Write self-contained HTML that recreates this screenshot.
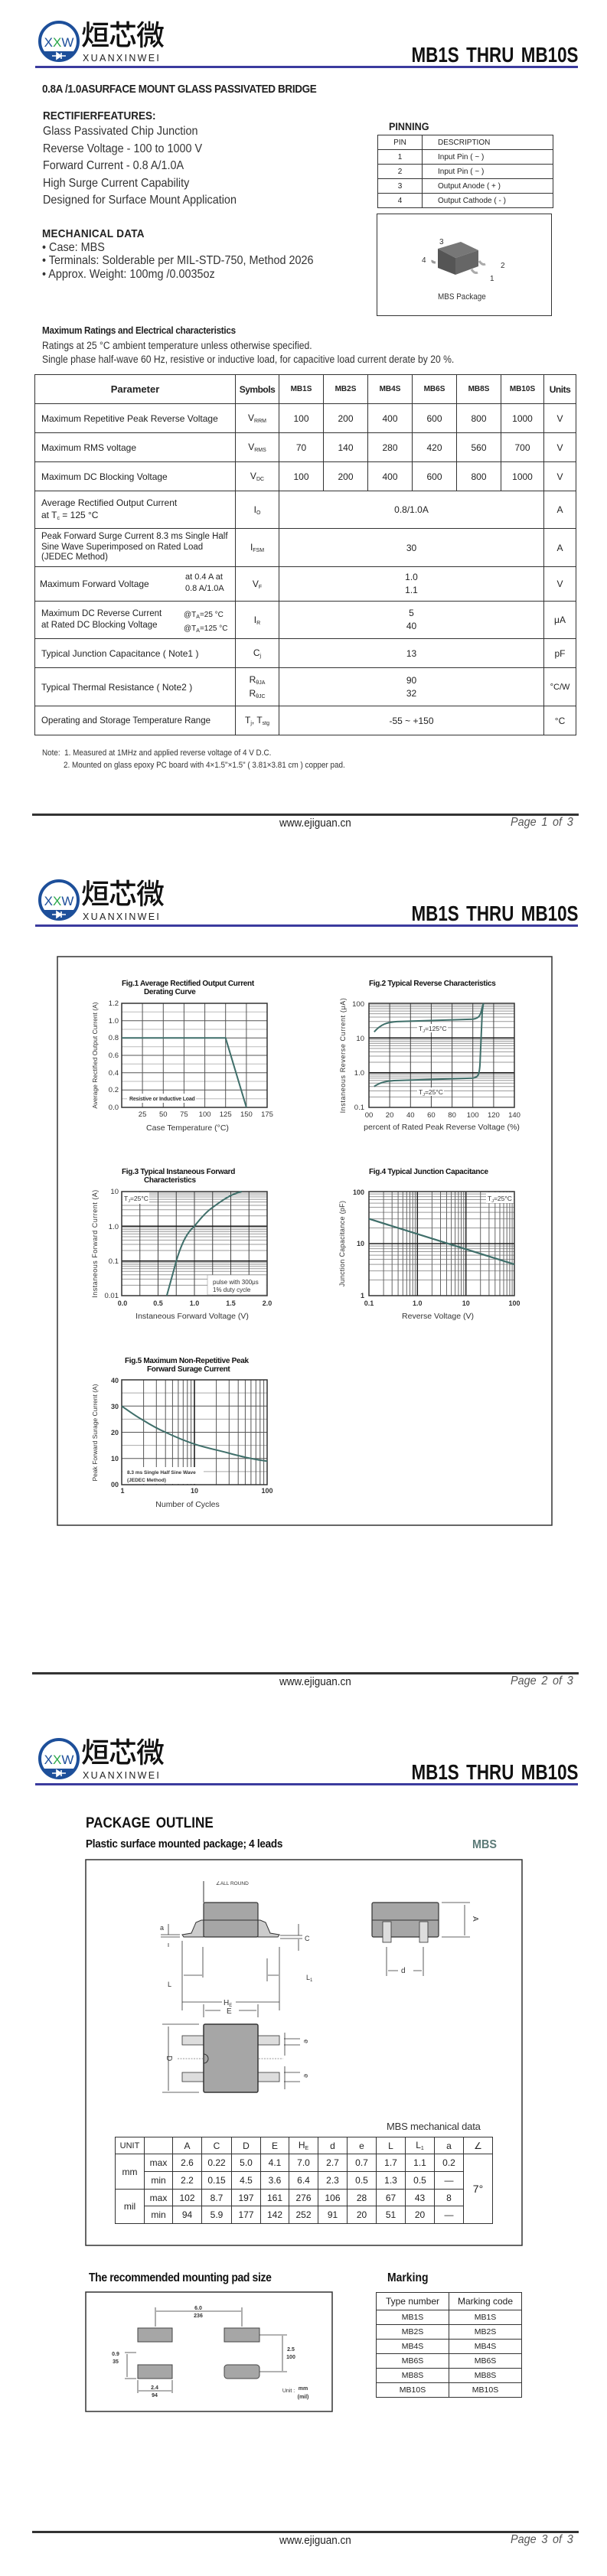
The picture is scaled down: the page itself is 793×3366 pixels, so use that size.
<!DOCTYPE html>
<html><head><meta charset="utf-8">
<style>
*{margin:0;padding:0;box-sizing:border-box}
body{width:793px;height:3366px;background:#fff;font-family:"Liberation Sans",Arial,sans-serif;color:#222;overflow:hidden}
.pg{position:relative;width:793px;height:1122px;overflow:hidden}
.a{position:absolute;white-space:nowrap;line-height:1.15}
.s{transform:scaleX(.9);transform-origin:left center}
.b{font-weight:bold}
.logo-cn{font-family:"Noto Sans CJK SC","WenQuanYi Zen Hei",sans-serif;font-size:37px;font-weight:500;color:#111;letter-spacing:-1px}
.ttl{font-size:28px;font-weight:bold;color:#111;word-spacing:4px;transform:scaleX(.8);transform-origin:right center}
.bl{position:absolute;left:46px;width:709px;top:86px;height:3px;background:#3b3b9e}
.fl{position:absolute;left:42px;width:714px;top:1063px;height:3px;background:#333}
.www{left:365px;top:1067px;font-size:15px;color:#222;transform:scaleX(.9);transform-origin:left center}
.pno{left:667px;top:1066px;font-size:16px;font-style:italic;color:#555;word-spacing:3px;transform:scaleX(.9);transform-origin:left center}
table{border-collapse:collapse;table-layout:fixed;position:absolute}
td{border:1.5px solid #333;text-align:center;vertical-align:middle;white-space:nowrap;font-size:12px;color:#222}
.rt td{font-size:12px}
.rt td.p{text-align:left;padding-left:8px}
sub{font-size:7px;vertical-align:-2px}
</style></head><body>

<!-- ================= PAGE 1 ================= -->
<div class="pg">
 <svg class="a" style="left:48px;top:25px" width="60" height="58" viewBox="0 0 60 58">
  <defs><clipPath id="c1"><circle cx="29" cy="29" r="25"/></clipPath></defs>
  <circle cx="29" cy="29" r="25" fill="#fff" stroke="#1d4f9a" stroke-width="4"/>
  <rect x="0" y="42" width="60" height="20" fill="#1d4f9a" clip-path="url(#c1)"/>
  <path d="M20 48 H38 M26 44 L32 48 L26 52 Z M32 44 V52" stroke="#fff" stroke-width="1.6" fill="#fff"/>
  <text x="29" y="36" text-anchor="middle" font-family="Liberation Sans" font-size="17" fill="#1d4f9a">X<tspan fill="#2aa84a">X</tspan>W</text>
 </svg>
 <div class="a logo-cn" style="left:106px;top:22px">烜芯微</div>
 <div class="a" style="left:108px;top:69px;font-size:12.5px;letter-spacing:2.3px;color:#222">XUANXINWEI</div>
 <div class="a ttl" style="right:38px;top:56px">MB1S THRU MB10S</div>
 <div class="bl"></div>

 <div class="a b s" style="left:55px;top:108px;font-size:15px;letter-spacing:-0.4px">0.8A /1.0ASURFACE MOUNT GLASS PASSIVATED BRIDGE</div>
 <div class="a b s" style="left:56px;top:143px;font-size:15px">RECTIFIERFEATURES:</div>
 <div class="a s" style="left:56px;top:163px;font-size:16px;color:#333">Glass Passivated Chip Junction</div>
 <div class="a s" style="left:56px;top:186px;font-size:16px;color:#333">Reverse Voltage - 100 to 1000 V</div>
 <div class="a s" style="left:56px;top:208px;font-size:16px;color:#333">Forward Current - 0.8 A/1.0A</div>
 <div class="a s" style="left:56px;top:231px;font-size:16px;color:#333">High Surge Current Capability</div>
 <div class="a s" style="left:56px;top:253px;font-size:16px;color:#333">Designed for Surface Mount Application</div>

 <div class="a b s" style="left:55px;top:297px;font-size:15px;letter-spacing:0.3px">MECHANICAL DATA</div>
 <div class="a s" style="left:55px;top:315px;font-size:16px;color:#333">• Case: MBS</div>
 <div class="a s" style="left:55px;top:332px;font-size:16px;color:#333">• Terminals: Solderable per MIL-STD-750, Method 2026</div>
 <div class="a s" style="left:55px;top:350px;font-size:16px;color:#333">• Approx. Weight: 100mg /0.0035oz</div>

 <div class="a b s" style="left:508px;top:157px;font-size:14px">PINNING</div>
 <table style="left:493px;top:176px;width:229px">
  <colgroup><col style="width:58px"><col style="width:171px"></colgroup>
  <tr style="height:19px"><td style="font-size:10px">PIN</td><td style="font-size:10px;text-align:left;padding-left:20px">DESCRIPTION</td></tr>
  <tr style="height:19px"><td style="font-size:10px">1</td><td style="font-size:10px;text-align:left;padding-left:20px">Input Pin ( ~ )</td></tr>
  <tr style="height:19px"><td style="font-size:10px">2</td><td style="font-size:10px;text-align:left;padding-left:20px">Input Pin ( ~ )</td></tr>
  <tr style="height:19px"><td style="font-size:10px">3</td><td style="font-size:10px;text-align:left;padding-left:20px">Output Anode ( + )</td></tr>
  <tr style="height:19px"><td style="font-size:10px">4</td><td style="font-size:10px;text-align:left;padding-left:20px">Output Cathode ( - )</td></tr>
 </table>
 <div class="a" style="left:492px;top:279px;width:229px;height:134px;border:1.5px solid #333"></div>
 <svg class="a" style="left:540px;top:305px" width="130" height="80" viewBox="0 0 130 80">
  <polygon points="32,20 62,11 85,22 55,32" fill="#777"/>
  <polygon points="32,20 55,32 55,54 32,45" fill="#555"/>
  <polygon points="55,32 85,22 85,43 55,54" fill="#666"/>
  <path d="M29 38 q-5 0 -4 -3" stroke="#999" stroke-width="3" fill="none"/>
  <path d="M76 47 q4 6 8 4" stroke="#aaa" stroke-width="3" fill="none"/>
  <path d="M86 36 q4 6 8 4" stroke="#aaa" stroke-width="3" fill="none"/>
  <text x="34" y="14" font-size="10" fill="#333">3</text>
  <text x="11" y="38" font-size="10" fill="#333">4</text>
  <text x="114" y="45" font-size="10" fill="#333">2</text>
  <text x="100" y="62" font-size="10" fill="#333">1</text>
 </svg>
 <div class="a s" style="left:572px;top:382px;font-size:11px;color:#333">MBS Package</div>

 <div class="a b s" style="left:55px;top:425px;font-size:13px;letter-spacing:-0.3px">Maximum Ratings and Electrical characteristics</div>
 <div class="a s" style="left:55px;top:444px;font-size:13.5px;color:#333">Ratings at 25 °C ambient temperature unless otherwise specified.</div>
 <div class="a s" style="left:55px;top:462px;font-size:13.5px;color:#333">Single phase half-wave 60 Hz, resistive or inductive load, for capacitive load current derate by 20 %.</div>

 <table class="rt" style="left:45px;top:489px;width:707px">
  <colgroup><col style="width:262px"><col style="width:57px"><col style="width:58px"><col style="width:58px"><col style="width:58px"><col style="width:58px"><col style="width:58px"><col style="width:56px"><col style="width:42px"></colgroup>
  <tr style="height:38px"><td class="b" style="font-size:13px">Parameter</td><td class="b" style="font-size:12px;letter-spacing:-0.5px">Symbols</td><td class="b" style="font-size:10px">MB1S</td><td class="b" style="font-size:10px">MB2S</td><td class="b" style="font-size:10px">MB4S</td><td class="b" style="font-size:10px">MB6S</td><td class="b" style="font-size:10px">MB8S</td><td class="b" style="font-size:10px">MB10S</td><td class="b" style="font-size:12px;letter-spacing:-0.5px">Units</td></tr>
  <tr style="height:38px"><td class="p">Maximum Repetitive Peak Reverse Voltage</td><td>V<sub>RRM</sub></td><td>100</td><td>200</td><td>400</td><td>600</td><td>800</td><td>1000</td><td>V</td></tr>
  <tr style="height:38px"><td class="p">Maximum RMS voltage</td><td>V<sub>RMS</sub></td><td>70</td><td>140</td><td>280</td><td>420</td><td>560</td><td>700</td><td>V</td></tr>
  <tr style="height:38px"><td class="p">Maximum DC Blocking Voltage</td><td>V<sub>DC</sub></td><td>100</td><td>200</td><td>400</td><td>600</td><td>800</td><td>1000</td><td>V</td></tr>
  <tr style="height:49px"><td class="p" style="line-height:1.3">Average Rectified Output Current<br>at T<sub>c</sub> = 125 °C</td><td>I<sub>O</sub></td><td colspan="6">0.8/1.0A</td><td>A</td></tr>
  <tr style="height:50px"><td class="p" style="line-height:1.2;font-size:11.5px">Peak Forward Surge Current 8.3 ms Single Half<br>Sine Wave Superimposed on Rated Load<br>(JEDEC Method)</td><td>I<sub>FSM</sub></td><td colspan="6">30</td><td>A</td></tr>
  <tr style="height:45px"><td class="p" style="position:relative;padding-left:6px">Maximum Forward Voltage<span style="position:absolute;left:196px;top:6px;line-height:1.4;font-size:11px">at 0.4 A at<br>0.8 A/1.0A</span></td><td>V<sub>F</sub></td><td colspan="6" style="line-height:1.4">1.0<br>1.1</td><td>V</td></tr>
  <tr style="height:49px"><td class="p" style="position:relative;line-height:1.3;font-size:11.5px">Maximum DC Reverse Current<br>at Rated DC Blocking Voltage<span style="position:absolute;left:194px;top:9px;font-size:10px;line-height:1.7">@T<sub>A</sub>=25 °C<br>@T<sub>A</sub>=125 °C</span></td><td>I<sub>R</sub></td><td colspan="6" style="line-height:1.4">5<br>40</td><td>μA</td></tr>
  <tr style="height:38px"><td class="p">Typical Junction Capacitance ( Note1 )</td><td>C<sub>j</sub></td><td colspan="6">13</td><td>pF</td></tr>
  <tr style="height:50px"><td class="p">Typical Thermal Resistance ( Note2 )</td><td style="line-height:1.4">R<sub>θJA</sub><br>R<sub>θJC</sub></td><td colspan="6" style="line-height:1.4">90<br>32</td><td style="font-size:11px">°C/W</td></tr>
  <tr style="height:38px"><td class="p" style="font-size:11.5px">Operating and Storage Temperature Range</td><td>T<sub>j</sub>, T<sub>stg</sub></td><td colspan="6">-55 ~ +150</td><td>°C</td></tr>
 </table>
 <div class="a s" style="left:55px;top:978px;font-size:11px;color:#333">Note:&nbsp; 1. Measured at 1MHz and applied reverse voltage of 4 V D.C.</div>
 <div class="a s" style="left:83px;top:994px;font-size:11px;color:#333">2. Mounted on glass epoxy PC board with 4×1.5"×1.5" ( 3.81×3.81 cm ) copper pad.</div>

 <div class="fl"></div>
 <div class="a www">www.ejiguan.cn</div>
 <div class="a pno">Page 1 of 3</div>
</div>

<!-- ================= PAGE 2 ================= -->
<div class="pg">
 <svg class="a" style="left:48px;top:25px" width="60" height="58" viewBox="0 0 60 58">
  <defs><clipPath id="c2"><circle cx="29" cy="29" r="25"/></clipPath></defs>
  <circle cx="29" cy="29" r="25" fill="#fff" stroke="#1d4f9a" stroke-width="4"/>
  <rect x="0" y="42" width="60" height="20" fill="#1d4f9a" clip-path="url(#c2)"/>
  <path d="M20 48 H38 M26 44 L32 48 L26 52 Z M32 44 V52" stroke="#fff" stroke-width="1.6" fill="#fff"/>
  <text x="29" y="36" text-anchor="middle" font-family="Liberation Sans" font-size="17" fill="#1d4f9a">X<tspan fill="#2aa84a">X</tspan>W</text>
 </svg>
 <div class="a logo-cn" style="left:106px;top:22px">烜芯微</div>
 <div class="a" style="left:108px;top:69px;font-size:12.5px;letter-spacing:2.3px;color:#222">XUANXINWEI</div>
 <div class="a ttl" style="right:38px;top:56px">MB1S THRU MB10S</div>
 <div class="bl"></div>

 <svg class="a" style="left:0;top:0" width="793" height="1122" font-family="Liberation Sans, sans-serif">
  <rect x="75" y="128" width="646" height="743" fill="none" stroke="#333" stroke-width="1.5"/>
  <g font-weight="bold" font-size="10" fill="#111" letter-spacing="-0.3">
   <text x="159" y="166">Fig.1  Average Rectified Output Current</text>
   <text x="188" y="177">Derating Curve</text>
   <text x="482" y="166">Fig.2  Typical Reverse Characteristics</text>
   <text x="159" y="412">Fig.3  Typical Instaneous Forward</text>
   <text x="188" y="423">Characteristics</text>
   <text x="482" y="412">Fig.4  Typical Junction Capacitance</text>
   <text x="163" y="659">Fig.5  Maximum Non-Repetitive Peak</text>
   <text x="192" y="670">Forward Surage Current</text>
  </g>
  <g stroke="#bbb" stroke-width="1" fill="none">
   <path d="M159 313.7H349M159 291H349M159 268.3H349M159 245.7H349M159 223H349M159 200.3H349"/>
  </g>
  <g stroke="#555" stroke-width="1" fill="none">
   <path d="M186.1 189V325M213.3 189V325M240.4 189V325M267.6 189V325M294.7 189V325M321.9 189V325M159 302.3H349M159 279.7H349M159 257H349M159 234.3H349M159 211.7H349"/>
  </g>
  <rect x="159" y="189" width="190" height="136" fill="none" stroke="#333" stroke-width="1.5"/>
  <rect x="166" y="307" width="90" height="12" fill="#fff"/>
  <text x="169" y="316" font-size="7" font-weight="bold" fill="#333" letter-spacing="-0.2">Resistive or Inductive Load</text>
  <polyline points="159,234.3 294.7,234.3 321.9,325" fill="none" stroke="#3f6f6a" stroke-width="2"/>
  <g font-size="9.5" fill="#333" text-anchor="end">
   <text x="155" y="192">1.2</text><text x="155" y="215">1.0</text><text x="155" y="237">0.8</text><text x="155" y="260">0.6</text><text x="155" y="283">0.4</text><text x="155" y="305">0.2</text><text x="155" y="328">0.0</text>
  </g>
  <g font-size="9.5" fill="#333" text-anchor="middle">
   <text x="186.1" y="337">25</text><text x="213.3" y="337">50</text><text x="240.4" y="337">75</text><text x="267.6" y="337">100</text><text x="294.7" y="337">125</text><text x="321.9" y="337">150</text><text x="349" y="337">175</text>
  </g>
  <text x="245" y="355" font-size="10.5" fill="#333" text-anchor="middle">Case Temperature (°C)</text>
  <text transform="translate(127,257) rotate(-90)" font-size="8.5" fill="#333" text-anchor="middle">Average Rectified Output Current (A)</text>

  <!-- Fig2 -->
  <g stroke="#999" stroke-width="1" fill="none">
   <path d="M482 311.4H672M482 303.4H672M482 297.7H672M482 293.3H672M482 289.7H672M482 286.7H672M482 284.1H672M482 281.7H672M482 266H672M482 258H672M482 252.4H672M482 248H672M482 244.4H672M482 241.4H672M482 238.7H672M482 236.4H672M482 220.7H672M482 212.7H672M482 207H672M482 202.6H672M482 199.1H672M482 196H672M482 193.4H672M482 191.1H672"/>
  </g>
  <g stroke="#444" stroke-width="1" fill="none">
   <path d="M509.1 189V325M536.3 189V325M563.4 189V325M590.6 189V325M617.7 189V325M644.9 189V325"/>
   <path d="M482 279.7H672M482 234.3H672" stroke="#111" stroke-width="1.5"/>
  </g>
  <rect x="482" y="189" width="190" height="136" fill="none" stroke="#333" stroke-width="1.5"/>
  <path d="M488.8 226.4 C497 217 505 213 522.7 212.7 L617.7 209.7 C626 209 628 204 629.5 196 L631.5 189" fill="none" stroke="#3f6f6a" stroke-width="2"/>
  <path d="M488.8 297.7 C497 292 505 290 522.7 289.7 L617.7 286.7 C625 286 626 282 627 270 L630 200 L631.5 189" fill="none" stroke="#3f6f6a" stroke-width="2"/>
  <rect x="545" y="216" width="40" height="11" fill="#fff"/>
  <text x="547" y="225" font-size="8.5" fill="#333">T<tspan font-size="5.5" dy="2">J</tspan><tspan dy="-2">=125°C</tspan></text>
  <rect x="545" y="299" width="35" height="11" fill="#fff"/>
  <text x="547" y="308" font-size="8.5" fill="#333">T<tspan font-size="5.5" dy="2">J</tspan><tspan dy="-2">=25°C</tspan></text>
  <g font-size="9.5" fill="#333" text-anchor="end">
   <text x="476" y="193">100</text><text x="476" y="238">10</text><text x="476" y="283">1.0</text><text x="476" y="328">0.1</text>
  </g>
  <g font-size="9.5" fill="#333" text-anchor="middle">
   <text x="482" y="338">00</text><text x="509.1" y="338">20</text><text x="536.3" y="338">40</text><text x="563.4" y="338">60</text><text x="590.6" y="338">80</text><text x="617.7" y="338">100</text><text x="644.9" y="338">120</text><text x="672" y="338">140</text>
  </g>
  <text x="577" y="354" font-size="10.5" fill="#333" text-anchor="middle">percent of Rated Peak Reverse Voltage (%)</text>
  <text transform="translate(451,257) rotate(-90)" font-size="9" fill="#333" text-anchor="middle" letter-spacing="0.6">Instaneous Reverse Current (μA)</text>

  <!-- Fig3 -->
  <g stroke="#999" stroke-width="1" fill="none">
   <path d="M159 557.4H349M159 549.4H349M159 543.7H349M159 539.3H349M159 535.7H349M159 532.7H349M159 530.1H349M159 527.7H349M159 512H349M159 504H349M159 498.4H349M159 494H349M159 490.4H349M159 487.4H349M159 484.7H349M159 482.4H349M159 466.7H349M159 458.7H349M159 453H349M159 448.6H349M159 445.1H349M159 442H349M159 439.4H349M159 437.1H349"/>
  </g>
  <g stroke="#444" stroke-width="1" fill="none">
   <path d="M182.75 435V571M206.5 435V571M230.25 435V571M254 435V571M277.75 435V571M301.5 435V571M325.25 435V571"/>
   <path d="M159 525.7H349M159 480.3H349" stroke="#111" stroke-width="1.5"/>
  </g>
  <rect x="159" y="435" width="190" height="136" fill="none" stroke="#333" stroke-width="1.5"/>
  <path d="M217.9 571 L230.3 525.7 C238 500 245 488 254 480.3 C262 470 270 461 277.8 455.7 C292 445 303 438 315.8 435" fill="none" stroke="#3f6f6a" stroke-width="2"/>
  <rect x="160" y="436" width="35" height="15" fill="#fff"/>
  <text x="162" y="447" font-size="8.5" fill="#333">T<tspan font-size="5.5" dy="2">J</tspan><tspan dy="-2">=25°C</tspan></text>
  <rect x="271" y="544" width="77" height="26" fill="#fff" stroke="#999" stroke-width="0.6"/>
  <text x="278" y="556" font-size="8" fill="#333">pulse with 300μs</text>
  <text x="278" y="566" font-size="8" fill="#333">1% duty cycle</text>
  <g font-size="9.5" fill="#333" text-anchor="end">
   <text x="155" y="438">10</text><text x="155" y="484">1.0</text><text x="155" y="529">0.1</text><text x="155" y="574">0.01</text>
  </g>
  <g font-size="9" fill="#333" text-anchor="middle" font-weight="bold">
   <text x="160" y="584">0.0</text><text x="206.5" y="584">0.5</text><text x="254" y="584">1.0</text><text x="301.5" y="584">1.5</text><text x="349" y="584">2.0</text>
  </g>
  <text x="251" y="601" font-size="10.5" fill="#333" text-anchor="middle">Instaneous Forward Voltage (V)</text>
  <text transform="translate(127,503) rotate(-90)" font-size="9" fill="#333" text-anchor="middle" letter-spacing="0.5">Instaneous Forward Current (A)</text>

  <!-- Fig4 -->
  <g stroke="#999" stroke-width="1" fill="none">
   <path d="M482 550.5H672M482 538.6H672M482 530.1H672M482 523.5H672M482 518.1H672M482 513.5H672M482 509.6H672M482 506.1H672M482 482.5H672M482 470.6H672M482 462.1H672M482 455.5H672M482 450.1H672M482 445.5H672M482 441.6H672M482 438.1H672"/>
  </g>
  <g stroke="#666" stroke-width="1" fill="none">
   <path d="M501.1 435V571M512.2 435V571M520.1 435V571M526.3 435V571M531.3 435V571M535.5 435V571M539.2 435V571M542.4 435V571M564.4 435V571M575.5 435V571M583.5 435V571M589.6 435V571M594.6 435V571M598.9 435V571M602.5 435V571M605.8 435V571M627.7 435V571M638.9 435V571M646.8 435V571M653 435V571M658 435V571M662.2 435V571M665.9 435V571M669.1 435V571"/>
   <path d="M545.3 435V571M608.7 435V571M482 503H672" stroke="#222" stroke-width="1.5"/>
  </g>
  <rect x="482" y="435" width="190" height="136" fill="none" stroke="#333" stroke-width="1.5"/>
  <line x1="482" y1="470.6" x2="672" y2="530.1" stroke="#3f6f6a" stroke-width="2.2"/>
  <rect x="635" y="436" width="36" height="14" fill="#fff"/>
  <text x="637" y="447" font-size="8.5" fill="#333">T<tspan font-size="5.5" dy="2">J</tspan><tspan dy="-2">=25°C</tspan></text>
  <g font-size="9" fill="#333" text-anchor="end" font-weight="bold">
   <text x="476" y="439">100</text><text x="476" y="506">10</text><text x="476" y="574">1</text>
  </g>
  <g font-size="9" fill="#333" text-anchor="middle" font-weight="bold">
   <text x="482" y="584">0.1</text><text x="545.3" y="584">1.0</text><text x="608.7" y="584">10</text><text x="672" y="584">100</text>
  </g>
  <text x="572" y="601" font-size="10.5" fill="#333" text-anchor="middle">Reverse  Voltage (V)</text>
  <text transform="translate(450,503) rotate(-90)" font-size="9" fill="#333" text-anchor="middle" letter-spacing="0.3">Junction Capacitance (pF)</text>

  <!-- Fig5 -->
  <g stroke="#aaa" stroke-width="1" fill="none">
   <path d="M159 698.1H349M159 732.4H349M159 766.6H349M159 800.9H349"/>
  </g>
  <g stroke="#555" stroke-width="1" fill="none">
   <path d="M187.6 681V818M204.3 681V818M216.2 681V818M225.4 681V818M232.9 681V818M239.3 681V818M244.8 681V818M249.6 681V818M282.6 681V818M299.3 681V818M311.2 681V818M320.4 681V818M327.9 681V818M334.3 681V818M339.8 681V818M344.6 681V818M159 715.25H349M159 749.5H349M159 783.75H349"/>
   <path d="M254 681V818" stroke="#111" stroke-width="1.5"/>
  </g>
  <rect x="159" y="681" width="190" height="137" fill="none" stroke="#333" stroke-width="1.5"/>
  <path d="M159 715.3 C170 723 178 729 187.6 734.1 C197 740 206 745 216.2 749.5 C230 756 242 761 254 764.9 C270 770 285 773 299.3 776.9 C315 781 330 785 349 787.2" fill="none" stroke="#3f6f6a" stroke-width="2"/>
  <rect x="160" y="795" width="106" height="22" fill="#fff"/>
  <text x="166" y="804" font-size="6.5" font-weight="bold" fill="#333">8.3 ms Single Half Sine Wave</text>
  <text x="166" y="814" font-size="6.5" font-weight="bold" fill="#333">(JEDEC Method)</text>
  <g font-size="9" fill="#333" text-anchor="end" font-weight="bold">
   <text x="155" y="685">40</text><text x="155" y="719">30</text><text x="155" y="753">20</text><text x="155" y="787">10</text><text x="155" y="821">00</text>
  </g>
  <g font-size="9" fill="#333" text-anchor="middle" font-weight="bold">
   <text x="160" y="829">1</text><text x="254" y="829">10</text><text x="349" y="829">100</text>
  </g>
  <text x="245" y="847" font-size="10.5" fill="#333" text-anchor="middle">Number of Cycles</text>
  <text transform="translate(127,750) rotate(-90)" font-size="8.5" fill="#333" text-anchor="middle">Peak Forward Surage Current (A)</text>
 </svg>

 <div class="fl"></div>
 <div class="a www">www.ejiguan.cn</div>
 <div class="a pno">Page 2 of 3</div>
</div>

<!-- ================= PAGE 3 ================= -->
<div class="pg">
 <svg class="a" style="left:48px;top:25px" width="60" height="58" viewBox="0 0 60 58">
  <defs><clipPath id="c3"><circle cx="29" cy="29" r="25"/></clipPath></defs>
  <circle cx="29" cy="29" r="25" fill="#fff" stroke="#1d4f9a" stroke-width="4"/>
  <rect x="0" y="42" width="60" height="20" fill="#1d4f9a" clip-path="url(#c3)"/>
  <path d="M20 48 H38 M26 44 L32 48 L26 52 Z M32 44 V52" stroke="#fff" stroke-width="1.6" fill="#fff"/>
  <text x="29" y="36" text-anchor="middle" font-family="Liberation Sans" font-size="17" fill="#1d4f9a">X<tspan fill="#2aa84a">X</tspan>W</text>
 </svg>
 <div class="a logo-cn" style="left:106px;top:22px">烜芯微</div>
 <div class="a" style="left:108px;top:69px;font-size:12.5px;letter-spacing:2.3px;color:#222">XUANXINWEI</div>
 <div class="a ttl" style="right:38px;top:56px">MB1S THRU MB10S</div>
 <div class="bl"></div>

 <div class="a b s" style="left:112px;top:128px;font-size:19px;color:#111;word-spacing:3px">PACKAGE OUTLINE</div>
 <div class="a b s" style="left:112px;top:157px;font-size:15px;color:#111;letter-spacing:-0.3px">Plastic surface mounted package; 4 leads</div>
 <div class="a b s" style="left:617px;top:158px;font-size:16px;color:#5b7a77">MBS</div>

 <svg class="a" style="left:0;top:0" width="793" height="1122" font-family="Liberation Sans, sans-serif">
  <rect x="112" y="186" width="570" height="504" fill="none" stroke="#333" stroke-width="1.5"/>
  <path d="M238 284 L250 282 L256 268 L263 265 L266 265 L266 287 L240 287 Z" fill="#ccc" stroke="#333"/>
  <path d="M365 284 L353 282 L347 268 L340 265 L337 265 L337 287 L363 287 Z" fill="#ccc" stroke="#333"/>
  <rect x="266" y="242" width="71" height="45" rx="2" fill="#a6a6a6" stroke="#333" stroke-width="1.2"/>
  <line x1="264" y1="265" x2="339" y2="265" stroke="#333"/>
  <line x1="266" y1="214" x2="266" y2="242" stroke="#333"/>
  <text x="282" y="219" font-size="6.5" fill="#333">∠ALL ROUND</text>
  <path d="M238 292 V383 M365 300 V383 M238 372 H365 M265 300 V340 M240 337 H264 M350 337 H364 M349 315 V345 M210 284 H235 M210 287 H235 M220 270 V284 M220 295 V300 M366 285 H395 M366 289 H395 M390 270 V285 M390 290 V305" stroke="#333" stroke-width="0.8" fill="none"/>
  <text x="209" y="278" font-size="9" fill="#333">a</text>
  <text x="219" y="352" font-size="9" fill="#333">L</text>
  <text x="400" y="343" font-size="9" fill="#333">L<tspan font-size="6" dy="2">1</tspan></text>
  <text x="398" y="292" font-size="9" fill="#333">C</text>
  <rect x="290" y="367" width="18" height="10" fill="#fff"/>
  <text x="292" y="376" font-size="10" fill="#333">H<tspan font-size="6" dy="2">E</tspan></text>
  <rect x="486" y="242" width="87" height="45" rx="2" fill="#a6a6a6" stroke="#333" stroke-width="1.2"/>
  <line x1="486" y1="265" x2="573" y2="265" stroke="#333"/>
  <rect x="500" y="267" width="11" height="27" fill="#ddd" stroke="#333" stroke-width="0.8"/>
  <rect x="548" y="267" width="11" height="27" fill="#ddd" stroke="#333" stroke-width="0.8"/>
  <path d="M577 242 H614 M577 287 H614 M607 245 V285 M505 300 V338 M553 300 V338 M507 331 H520 M540 331 H551" stroke="#333" stroke-width="0.8" fill="none"/>
  <text x="612" y="262" font-size="10" fill="#333" transform="rotate(90 616 264)">A</text>
  <text x="524" y="334" font-size="10" fill="#333">d</text>
  <rect x="238" y="416" width="29" height="12" fill="#ddd" stroke="#333" stroke-width="0.8"/>
  <rect x="238" y="464" width="29" height="12" fill="#ddd" stroke="#333" stroke-width="0.8"/>
  <rect x="336" y="416" width="29" height="12" fill="#ddd" stroke="#333" stroke-width="0.8"/>
  <rect x="336" y="464" width="29" height="12" fill="#ddd" stroke="#333" stroke-width="0.8"/>
  <rect x="266" y="401" width="71" height="89" rx="2" fill="#a6a6a6" stroke="#333" stroke-width="1.5"/>
  <path d="M266 440 A6 6 0 0 1 266 452" fill="none" stroke="#333"/>
  <path d="M266 375 V392 M337 375 V392 M268 383 H288 M312 383 H335 M212 401 H260 M212 490 H260 M220 404 V488 M372 412 V442 M372 456 V486 M371 420 H392 M371 428 H392 M371 464 H392 M371 476 H392" stroke="#333" stroke-width="0.8" fill="none"/>
  <path d="M232 446 H265 M338 446 H370" stroke="#333" stroke-width="0.6" stroke-dasharray="2 1.5"/>
  <text x="296" y="387" font-size="10" fill="#333">E</text>
  <text x="218" y="450" font-size="10" fill="#333" transform="rotate(90 222 446)">D</text>
  <text x="397" y="427" font-size="9" fill="#333" transform="rotate(90 400 424)">e</text>
  <text x="397" y="472" font-size="9" fill="#333" transform="rotate(90 400 469)">e</text>

  <text x="505" y="539" font-size="13" fill="#333" letter-spacing="-0.2">MBS mechanical data</text>

  <rect x="112" y="751" width="322" height="156" fill="none" stroke="#333" stroke-width="1.5"/>
  <rect x="180" y="798" width="45" height="18" fill="#a6a6a6" stroke="#444"/>
  <rect x="293" y="798" width="46" height="18" fill="#a6a6a6" stroke="#444"/>
  <rect x="180" y="846" width="45" height="18" fill="#a6a6a6" stroke="#444"/>
  <rect x="293" y="846" width="46" height="18" rx="4" fill="#a6a6a6" stroke="#444"/>
  <path d="M203 771 V796 M316 771 V796 M204 776 H315 M339 807 H375 M339 855 H375 M369 808 V854 M163 830 H178 M163 864 H178 M166 832 V862 M180 866 V883 M225 866 V883 M181 880 H224" stroke="#333" stroke-width="0.8" fill="none"/>
  <g font-size="7" fill="#333" font-weight="bold" text-anchor="middle">
   <text x="259" y="774">6.0</text><text x="259" y="784">236</text>
   <text x="380" y="828">2.5</text><text x="380" y="838">100</text>
   <text x="151" y="834">0.9</text><text x="151" y="844">35</text>
   <text x="202" y="878">2.4</text><text x="202" y="888">94</text>
   <text x="377" y="882" font-weight="normal">Unit :</text><text x="396" y="879">mm</text><text x="396" y="890">(mil)</text>
  </g>
 </svg>

 <table style="left:150px;top:548px;width:493px">
  <colgroup><col style="width:38px"><col style="width:37px"><col style="width:38px"><col style="width:39px"><col style="width:38px"><col style="width:37px"><col style="width:38px"><col style="width:38px"><col style="width:38px"><col style="width:38px"><col style="width:38px"><col style="width:38px"><col style="width:38px"></colgroup>
  <tr style="height:22px"><td style="font-size:11px">UNIT</td><td></td><td>A</td><td>C</td><td>D</td><td>E</td><td>H<sub>E</sub></td><td>d</td><td>e</td><td>L</td><td>L<sub>1</sub></td><td>a</td><td>∠</td></tr>
  <tr style="height:23px"><td rowspan="2">mm</td><td>max</td><td>2.6</td><td>0.22</td><td>5.0</td><td>4.1</td><td>7.0</td><td>2.7</td><td>0.7</td><td>1.7</td><td>1.1</td><td>0.2</td><td rowspan="4" style="font-size:14px">7°</td></tr>
  <tr style="height:23px"><td>min</td><td>2.2</td><td>0.15</td><td>4.5</td><td>3.6</td><td>6.4</td><td>2.3</td><td>0.5</td><td>1.3</td><td>0.5</td><td>—</td></tr>
  <tr style="height:22px"><td rowspan="2">mil</td><td>max</td><td>102</td><td>8.7</td><td>197</td><td>161</td><td>276</td><td>106</td><td>28</td><td>67</td><td>43</td><td>8</td></tr>
  <tr style="height:23px"><td>min</td><td>94</td><td>5.9</td><td>177</td><td>142</td><td>252</td><td>91</td><td>20</td><td>51</td><td>20</td><td>—</td></tr>
 </table>

 <div class="a b s" style="left:116px;top:724px;font-size:15.5px;color:#111;letter-spacing:-0.4px">The recommended mounting pad size</div>
 <div class="a b s" style="left:506px;top:724px;font-size:15.5px;color:#111">Marking</div>
 <table style="left:491px;top:751px;width:190px">
  <colgroup><col style="width:95px"><col style="width:95px"></colgroup>
  <tr style="height:23px"><td style="font-size:12px">Type number</td><td style="font-size:12px">Marking code</td></tr>
  <tr style="height:19px"><td style="font-size:10.5px">MB1S</td><td style="font-size:10.5px">MB1S</td></tr>
  <tr style="height:19px"><td style="font-size:10.5px">MB2S</td><td style="font-size:10.5px">MB2S</td></tr>
  <tr style="height:19px"><td style="font-size:10.5px">MB4S</td><td style="font-size:10.5px">MB4S</td></tr>
  <tr style="height:19px"><td style="font-size:10.5px">MB6S</td><td style="font-size:10.5px">MB6S</td></tr>
  <tr style="height:19px"><td style="font-size:10.5px">MB8S</td><td style="font-size:10.5px">MB8S</td></tr>
  <tr style="height:19px"><td style="font-size:10.5px">MB10S</td><td style="font-size:10.5px">MB10S</td></tr>
 </table>

 <div class="fl"></div>
 <div class="a www">www.ejiguan.cn</div>
 <div class="a pno">Page 3 of 3</div>
</div>
</body></html>
